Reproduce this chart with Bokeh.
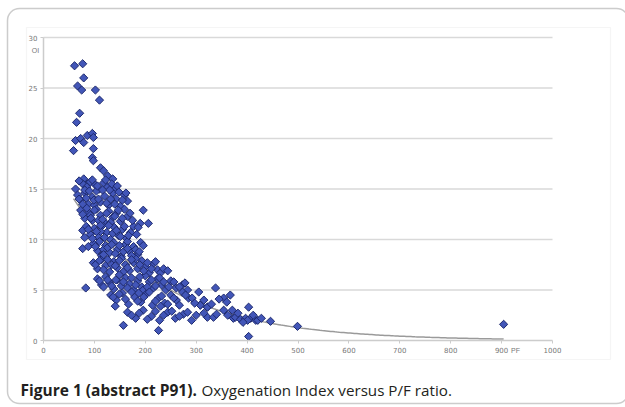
import numpy as np
from bokeh.plotting import figure
from bokeh.models import Range1d, Label, BoxAnnotation, FixedTicker, ColumnDataSource, LinearAxis
from bokeh.embed import file_html
from bokeh.resources import INLINE

# ---- data ----
pf_ratio = [
    61, 77, 79, 67, 75, 102, 110, 71, 65, 63, 73, 79, 86, 96, 98, 59, 98, 96, 98, 112, 118, 126, 136, 79, 86,
    63, 77, 85, 92, 102, 110, 118, 126, 134, 141,
    67, 73, 81, 88, 96, 104, 112, 120, 128, 136, 143, 151, 159, 165, 84, 100,
    73, 81, 88, 96, 104, 112, 120, 128, 136, 143, 151, 159, 165, 196, 190, 206, 92,
    77, 84, 92, 100, 108, 116, 124, 132, 139, 147, 155, 163, 171, 177, 112, 136,
    77, 98, 106, 114, 122, 130, 138, 145, 153, 161, 169, 177, 185, 191, 118, 141, 165,
    98, 106, 114, 122, 130, 138, 145, 153, 161, 169, 177, 185, 193, 200, 208, 216, 224, 230, 134, 157, 181,
    83, 106, 114, 122, 130, 138, 145, 153, 161, 169, 177, 185, 193, 200, 208, 216, 224, 232, 240, 250, 261, 273, 283, 149, 196,
    132, 143, 155, 167, 179, 191, 202, 214, 226, 238, 250, 261, 273, 285, 292, 308, 322, 338, 354, 367, 403, 141, 187, 230, 305,
    165, 181, 196, 212, 228, 244, 259, 275, 291, 308, 322, 322, 334, 354, 371, 373, 377, 387, 397, 407, 417, 421, 401, 428, 446,
    157, 226, 403, 499, 904,
    70, 81, 96, 106, 122, 130, 145,
    70, 77, 90, 99, 108, 116, 124, 132, 140, 148, 155, 162,
    77, 85, 93, 100, 108, 116, 124, 132, 140, 147, 155, 170, 175,
    81, 88, 96, 104, 112, 120, 128, 143, 151, 159, 167, 183, 186,
    88, 102, 110, 118, 126, 134, 149, 157, 165, 173, 181, 188, 196,
    102, 110, 118, 126, 141, 149, 165, 173, 189, 197, 204, 212, 220, 236, 244,
    110, 118, 126, 134, 142, 157, 165, 173, 181, 189, 204, 212, 220, 228, 236, 246, 256, 267, 278,
    137, 149, 161, 173, 185, 197, 208, 220, 232, 244, 256, 267, 279, 297, 315, 330, 345, 360,
    173, 188, 204, 220, 236, 252, 267, 283, 300, 315, 340, 362, 382, 392, 412,
]
oxygenation_index = [
    27.2, 27.4, 26.0, 25.2, 24.8, 24.8, 23.8, 22.5, 21.6, 19.8, 20.0, 19.6, 20.3, 20.5, 20.1, 18.8, 19.0, 18.1, 17.8, 17.1, 16.8, 16.3, 16.0, 16.0, 15.5,
    15.0, 15.5, 15.2, 15.7, 15.4, 15.0, 15.6, 15.2, 15.5, 15.0,
    14.4, 13.9, 14.6, 13.5, 14.2, 14.8, 13.7, 14.3, 13.4, 14.6, 14.0, 13.3, 14.4, 13.8, 14.1, 13.4,
    12.9, 12.1, 12.7, 11.9, 13.0, 12.4, 11.7, 12.8, 12.2, 12.6, 11.8, 13.0, 12.3, 12.9, 11.6, 11.6, 12.4,
    10.9, 11.3, 10.5, 11.1, 10.2, 11.4, 10.7, 10.0, 11.2, 10.4, 11.0, 10.1, 10.7, 11.3, 10.8, 10.6,
    9.1, 9.6, 8.9, 8.4, 9.4, 8.7, 9.7, 9.0, 8.3, 9.5, 8.8, 9.3, 8.5, 9.7, 9.0, 8.6, 9.8,
    7.7, 7.1, 8.0, 7.4, 6.8, 7.8, 7.2, 8.1, 7.5, 6.9, 7.7, 7.1, 7.9, 7.3, 6.7, 7.6, 7.0, 6.7, 7.5, 6.8, 8.1,
    5.2, 6.1, 5.5, 6.3, 5.7, 5.1, 6.0, 5.4, 6.2, 5.6, 5.0, 5.9, 5.3, 6.4, 5.8, 5.2, 6.1, 5.5, 5.0, 5.9, 5.2, 5.5, 5.0, 6.5, 5.0,
    4.5, 4.0, 4.7, 3.6, 4.3, 3.8, 4.6, 3.5, 4.2, 3.7, 4.5, 4.0, 4.8, 4.2, 4.2, 3.5, 3.3, 5.2, 4.2, 4.5, 3.3, 3.4, 4.7, 3.4, 4.8,
    2.8, 2.2, 3.0, 2.4, 2.0, 2.8, 2.2, 2.6, 2.0, 3.5, 3.3, 2.3, 2.3, 3.0, 3.0, 2.2, 2.3, 2.1, 2.2, 2.2, 2.0, 2.0, 2.0, 2.2, 1.9,
    1.5, 1.0, 0.4, 1.4, 1.6,
    15.8, 14.9, 15.9, 15.3, 15.9, 14.9, 15.3,
    14.0, 13.5, 14.8, 13.9, 14.0, 14.9, 13.6, 14.0, 13.5, 14.7, 13.9, 14.6,
    12.5, 13.1, 12.1, 12.9, 11.9, 12.0, 12.6, 11.7, 12.3, 12.9, 12.1, 12.6, 11.9,
    10.2, 11.0, 10.1, 10.8, 11.4, 10.2, 11.4, 10.9, 10.3, 11.3, 10.4, 10.5, 11.2,
    9.3, 9.3, 9.8, 8.5, 9.2, 9.5, 9.4, 8.8, 9.1, 8.4, 9.0, 8.8, 9.4,
    7.5, 7.9, 7.0, 8.0, 7.4, 7.9, 7.2, 8.0, 7.5, 6.9, 7.7, 7.1, 7.8, 7.1, 6.9,
    5.9, 5.3, 6.0, 5.4, 6.0, 5.8, 5.2, 6.2, 5.5, 6.3, 5.3, 6.0, 5.4, 6.2, 5.8, 5.3, 5.8, 5.3, 5.7,
    4.3, 4.6, 4.1, 4.8, 3.9, 4.3, 4.8, 3.9, 4.4, 3.6, 4.2, 3.5, 4.5, 3.7, 4.0, 3.6, 4.1, 3.8,
    2.5, 2.7, 2.1, 2.9, 2.5, 2.9, 2.4, 2.8, 2.5, 2.7, 2.6, 2.5, 2.7, 1.8, 2.5,
]
x_ticks = [0, 100, 200, 300, 400, 500, 600, 700, 800, 900, 1000]
y_ticks = [0, 5, 10, 15, 20, 25, 30]
x_title = "PF"
y_title = "OI"
caption_bold = "Figure 1 (abstract P91)."
caption_text = "Oxygenation Index versus P/F ratio."

# exponential trend line (least squares on log y), like a spreadsheet trendline
xs = np.array(pf_ratio, dtype=float)
ys = np.array(oxygenation_index, dtype=float)
b, ln_a = np.polyfit(xs, np.log(ys), 1)
trend_x = np.linspace(xs.min(), xs.max(), 200)
trend_y = np.exp(ln_a) * np.exp(b * trend_x)

# ---- layout (canvas pixels) ----
W, H = 625, 407
PX_LEFT, PX_RIGHT, PX_TOP, PX_BOTTOM = 43.0, 552.0, 37.0, 340.0   # where the data area sits
kx = (PX_RIGHT - PX_LEFT) / (x_ticks[-1] - x_ticks[0])
ky = (PX_BOTTOM - PX_TOP) / (y_ticks[-1] - y_ticks[0])
x_range = Range1d(x_ticks[0] - PX_LEFT / kx, x_ticks[0] + (W - PX_LEFT) / kx)
y_range = Range1d(y_ticks[0] - (H - PX_BOTTOM) / ky, y_ticks[0] + PX_BOTTOM / ky)

p = figure(width=W, height=H, output_backend="svg", toolbar_location=None,
           x_range=x_range, y_range=y_range, x_axis_location=None, y_axis_location=None,
           min_border=0)
p.background_fill_color = "white"
p.border_fill_color = "white"
p.outline_line_color = None
p.grid.visible = False

# outer rounded frame and the inner picture box (screen units: x from left, y from bottom)
p.add_layout(BoxAnnotation(left=7, right=628, top=H - 8, bottom=H - 403,
                           left_units="screen", right_units="screen", top_units="screen", bottom_units="screen",
                           fill_color=None, line_color="#555555", line_width=1.5, border_radius=12))
p.add_layout(BoxAnnotation(left=26, right=610, top=H - 27, bottom=H - 359,
                           left_units="screen", right_units="screen", top_units="screen", bottom_units="screen",
                           fill_color=None, line_color="#dedede", line_width=1.2))

# horizontal gridlines at the y ticks, spanning the x-axis extent
gy = y_ticks[1:]
p.segment(x0=[x_ticks[0]] * len(gy), x1=[x_ticks[-1]] * len(gy), y0=gy, y1=gy,
          line_color="#d9d9d9", line_width=1.5)

for loc, ticks, bounds in (("below", x_ticks, (x_ticks[0], x_ticks[-1])),
                           ("left", y_ticks, (y_ticks[0], y_ticks[-1]))):
    ax = LinearAxis(fixed_location=0, bounds=bounds, ticker=FixedTicker(ticks=ticks))
    ax.axis_line_color = "#cccccc"
    ax.axis_line_width = 1.5
    ax.major_tick_line_color = "#cccccc"
    ax.major_tick_out = 3
    ax.major_tick_in = 0
    ax.minor_tick_line_color = None
    ax.major_label_text_font_size = "7px"
    ax.major_label_text_color = "#777777"
    ax.major_label_text_font = "DejaVu Sans"
    ax.major_label_standoff = 3
    p.add_layout(ax, loc)

src = ColumnDataSource(dict(x=pf_ratio, y=oxygenation_index))
p.line(trend_x, trend_y, line_color="#9a9a9a", line_width=1.5)
p.scatter("x", "y", source=src, marker="square", angle=np.pi / 4, size=5.8,
          fill_color="#4256b8", line_color="#1e2a6e", line_width=1)

p.add_layout(Label(x=35, y=H - 50, x_units="screen", y_units="screen", text=y_title,
                   text_font_size="7px", text_color="#777777", text_align="center", text_baseline="middle"))
p.add_layout(Label(x=515, y=H - 350, x_units="screen", y_units="screen", text=x_title,
                   text_font_size="7px", text_color="#777777", text_align="center", text_baseline="middle"))

p.add_layout(Label(x=20, y=H - 389, x_units="screen", y_units="screen", text=caption_bold,
                   text_font="Open Sans", text_font_style="bold", text_font_size="15.5px",
                   text_color="#231f20", text_baseline="alphabetic"))
p.add_layout(Label(x=201, y=H - 389, x_units="screen", y_units="screen", text=caption_text,
                   text_font="Open Sans", text_font_size="15.2px",
                   text_color="#231f20", text_baseline="alphabetic"))

open("out.html", "w").write(file_html(p, INLINE))
